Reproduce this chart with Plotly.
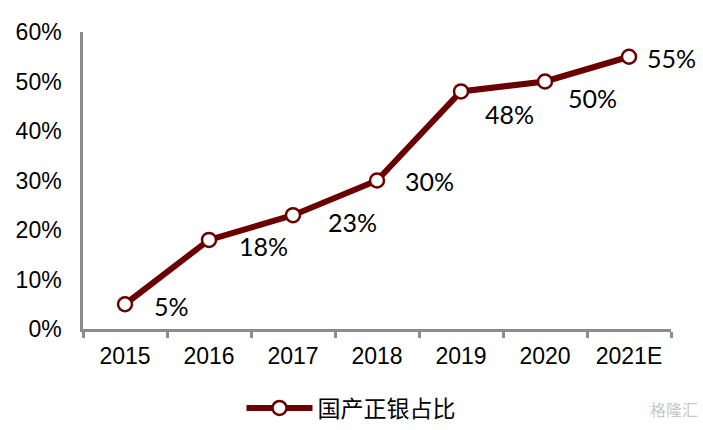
import plotly.graph_objects as go

# ---- data ----
years = ["2015", "2016", "2017", "2018", "2019", "2020", "2021E"]
share = [5, 18, 23, 30, 48, 50, 55]
y_ticks = [0, 10, 20, 30, 40, 50, 60]
y_tick_labels = [f"{v}%" for v in y_ticks]
series_name = "国产正银占比"

# ---- style ----
RED = "#6A0000"
AXIS = "#8C8C8C"
label_dx = [27, 28, 33, 26, 22, 21, 16]       # px right of point
label_dy = [2, 6.5, 7, 0, 23, 16, 1]          # px below point

fig = go.Figure()
fig.add_trace(go.Scatter(
    x=years, y=share, mode="lines+markers", name=series_name,
    line=dict(color=RED, width=6),
    marker=dict(size=14, color="white", line=dict(color=RED, width=2.5)),
    cliponaxis=False, hoverinfo="skip",
))

for i, (yv, dx, dy) in enumerate(zip(share, label_dx, label_dy)):
    fig.add_annotation(
        x=i, y=yv, xref="x", yref="y", text=f"{yv}%", showarrow=False,
        xanchor="left", yanchor="middle", xshift=dx, yshift=-dy,
        font=dict(family="Lato", size=25, color="black"),
    )

# watermark
fig.add_annotation(
    x=(648 - 83) / 588, y=(329 - 409) / 297, xref="paper", yref="paper",
    text="格隆汇", showarrow=False, xanchor="left", yanchor="middle",
    font=dict(family="Noto Sans CJK SC", size=16, color="#C8C8C8"),
)

fig.update_layout(
    width=703, height=430,
    margin=dict(l=83, r=32, t=32, b=101, autoexpand=False),
    plot_bgcolor="white", paper_bgcolor="white",
    showlegend=True,
    legend=dict(
        orientation="h", x=(351 - 83) / 588, xanchor="center",
        y=(329 - 408) / 297, yanchor="middle",
        font=dict(family="Noto Sans CJK SC", size=23, color="black"),
        itemwidth=66,
    ),
    xaxis=dict(
        type="category", range=[-0.5, 6.5], autorange=False,
        showline=True, linecolor=AXIS, linewidth=2.5,
        ticks="outside", tickson="boundaries", ticklen=6, tickcolor=AXIS, tickwidth=2.5,
        showgrid=False, ticklabelstandoff=5,
        tickfont=dict(family="Liberation Sans", size=23, color="black"),
    ),
    yaxis=dict(
        range=[0, 60], autorange=False, tickvals=y_ticks, ticktext=y_tick_labels,
        showline=True, linecolor=AXIS, linewidth=2.5, ticks="",
        showgrid=False, zeroline=False, ticklabelstandoff=14,
        tickfont=dict(family="Liberation Sans", size=23, color="black"),
    ),
)

fig.write_html("out.html", post_script="document.body.style.margin='0';",
               config={"displayModeBar": False})
